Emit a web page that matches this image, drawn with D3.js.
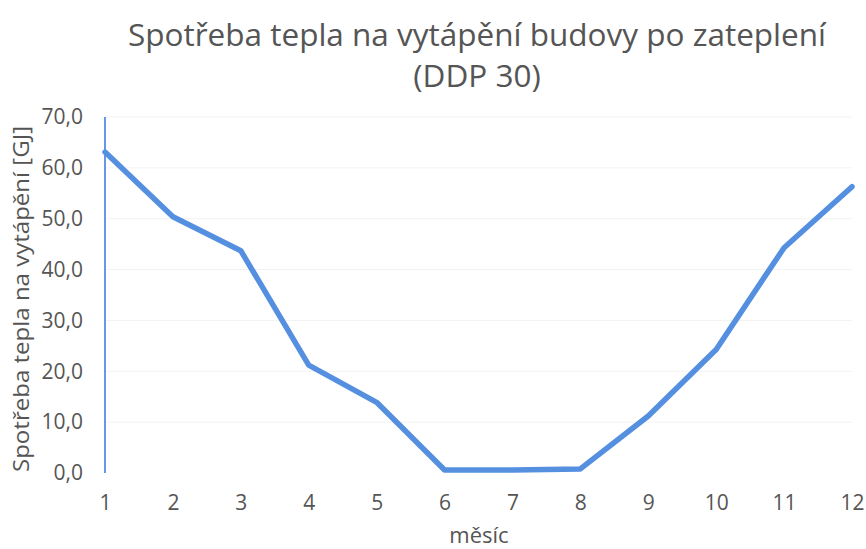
<!DOCTYPE html>
<html>
<head>
<meta charset="utf-8">
<script src="https://cdn.jsdelivr.net/npm/d3@7"></script>
<style>
  body { margin: 0; background: #fff; }
  text { font-family: "Open Sans", "Noto Sans", sans-serif; fill: #555; }
</style>
</head>
<body>
<svg id="chart" width="866" height="549"></svg>
<script>
// data
const months = [1, 2, 3, 4, 5, 6, 7, 8, 9, 10, 11, 12];
const heat = [63.1, 50.4, 43.7, 21.2, 13.9, 0.6, 0.6, 0.8, 11.2, 24.3, 44.3, 56.3];
const yTicks = [0, 10, 20, 30, 40, 50, 60, 70];
const titleLines = ["Spotřeba tepla na vytápění budovy po zateplení", "(DDP 30)"];
const xTitle = "měsíc";
const yTitle = "Spotřeba tepla na vytápění [GJ]";

const WIDTH = 866, HEIGHT = 549;
const MARGIN = { TOP: 117, BOTTOM: 76, LEFT: 105, RIGHT: 14 };

const svg = d3.select('#chart');

const x = d3.scaleLinear()
  .domain([1, 12])
  .range([MARGIN.LEFT, WIDTH - MARGIN.RIGHT]);
const y = d3.scaleLinear()
  .domain([0, 70])
  .range([HEIGHT - MARGIN.BOTTOM, MARGIN.TOP]);

// faint gridlines (barely visible on the scan)
svg.append('g')
  .selectAll('line')
  .data(yTicks.filter(d => d > 0))
  .enter()
  .append('line')
  .attr('x1', x(1))
  .attr('x2', x(12))
  .attr('y1', y)
  .attr('y2', y)
  .attr('stroke', '#f3f3f3')
  .attr('stroke-width', 1);

// y tick labels
const yAxis = svg.append('g')
  .attr('transform', `translate(${x(1) - 22},0)`)
  .call(d3.axisLeft(y).tickValues(yTicks).tickSize(0).tickPadding(0)
    .tickFormat(d => d3.format('.1f')(d).replace('.', ',')));
yAxis.select('.domain').remove();
yAxis.selectAll('text')
  .attr('font-size', 21)
  .attr('fill', '#4a4a4a')
  .attr('font-family', '"Open Sans", sans-serif');

// x tick labels
const xAxis = svg.append('g')
  .attr('transform', `translate(0,${y(0) + 22})`)
  .call(d3.axisBottom(x).tickValues(months).tickSize(0).tickPadding(0)
    .tickFormat(d3.format('d')));
xAxis.select('.domain').remove();
xAxis.selectAll('text')
  .attr('font-size', 21)
  .attr('fill', '#4a4a4a')
  .attr('font-family', '"Open Sans", sans-serif');

// vertical axis line
svg.append('line')
  .attr('x1', x(1))
  .attr('x2', x(1))
  .attr('y1', y(70))
  .attr('y2', y(0))
  .attr('stroke', '#3f7ee0')
  .attr('stroke-width', 1.6);

// series
const line = d3.line()
  .x((d, i) => x(months[i]))
  .y(d => y(d));
svg.append('path')
  .datum(heat)
  .attr('d', line)
  .attr('fill', 'none')
  .attr('stroke', '#5590e0')
  .attr('stroke-width', 5.5)
  .attr('stroke-linejoin', 'round')
  .attr('stroke-linecap', 'round');

// title
svg.append('g')
  .selectAll('text')
  .data(titleLines)
  .enter()
  .append('text')
  .attr('x', 477)
  .attr('y', (d, i) => 46 + i * 41)
  .attr('text-anchor', 'middle')
  .attr('font-size', 31.5)
  .attr('fill', '#404040')
  .text(d => d);

// axis titles
svg.append('text')
  .attr('x', 479)
  .attr('y', 543)
  .attr('text-anchor', 'middle')
  .attr('font-size', 22)
  .attr('fill', '#4a4a4a')
  .text(xTitle);

svg.append('text')
  .attr('transform', 'translate(29,299) rotate(-90)')
  .attr('text-anchor', 'middle')
  .attr('font-size', 22)
  .attr('fill', '#4a4a4a')
  .attr('textLength', 346)
  .attr('lengthAdjust', 'spacingAndGlyphs')
  .text(yTitle);
</script>
</body>
</html>
